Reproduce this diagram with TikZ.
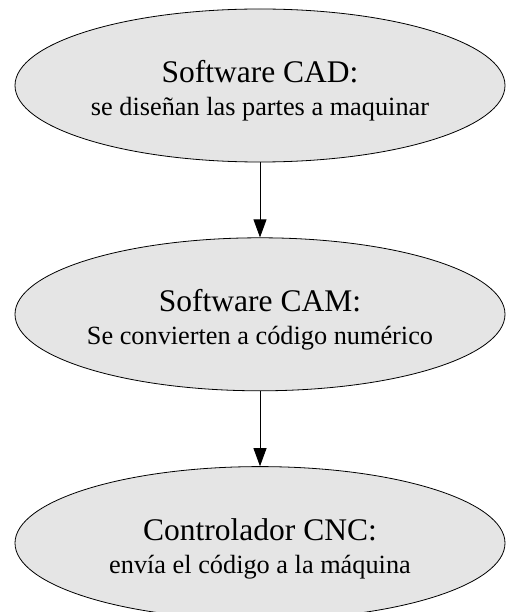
\documentclass[tikz,border=0pt]{standalone}
\usepackage{fontspec}
\setmainfont{Liberation Serif}
\usetikzlibrary{arrows.meta,positioning,shapes.geometric}
\definecolor{fondo}{HTML}{E5E5E5}

\begin{document}
\begin{tikzpicture}[node distance=75pt,
   etapa/.style={draw,ellipse,fill=fondo,line width=0.8pt,
                 minimum width=490pt,minimum height=153pt,inner sep=0pt},
   texto/.style={align=center,font=\fontsize{26.3}{33}\selectfont,yshift=-5.4pt},
   flecha/.style={-{Triangle[length=18pt,width=13pt]},line width=0.8pt}]
  \useasboundingbox (0,0) rectangle (507pt,-612pt);
  % etapas del proceso
  \node[etapa] (cad) at (260pt,-85.5pt) {};
  \node[etapa,below=of cad] (cam) {};
  \node[etapa,below=of cam] (cnc) {};
  \node[texto] (tcad) at (cad) {{\fontsize{31.5}{33}\selectfont Software CAD:}\\se diseñan las partes a maquinar};
  \node[texto] (tcam) at (cam) {{\fontsize{31.5}{33}\selectfont Software CAM:}\\Se convierten a código numérico};
  \node[texto] (tcnc) at (cnc) {{\fontsize{31.5}{33}\selectfont Controlador CNC:}\\envía el código a la máquina};
  \draw[flecha] (cad)--(cam);
  \draw[flecha] (cam)--(cnc);
\end{tikzpicture}
\end{document}
